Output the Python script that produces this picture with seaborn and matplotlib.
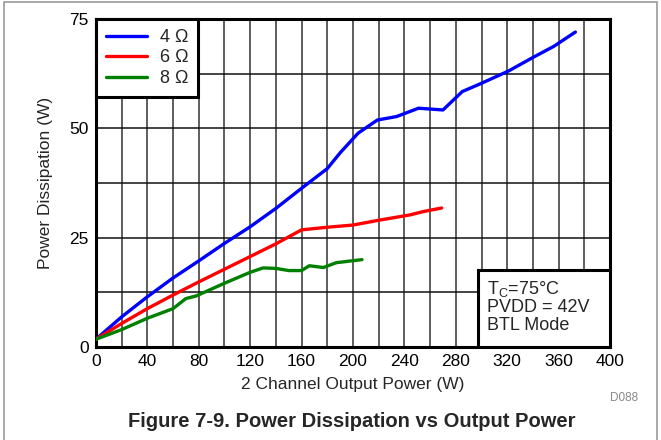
import matplotlib
matplotlib.use("Agg")
import matplotlib.pyplot as plt
import numpy as np
import pandas as pd
import seaborn as sns
from matplotlib.patches import Rectangle

# 4 ohm load
p4 = [0, 20, 40, 60, 80, 100, 120, 140, 160, 180, 190, 204, 219, 234, 251, 270, 285, 300, 321, 340, 356, 373]
d4 = [1.8, 6.9, 11.5, 15.8, 19.7, 23.7, 27.5, 31.7, 36.3, 40.8, 44.4, 48.9, 51.9, 52.7, 54.6, 54.2, 58.4, 60.3, 63.1, 66.2, 68.7, 72.0]

# 6 ohm load
p6 = [0, 20, 40, 60, 80, 100, 120, 140, 160, 180, 200, 220, 244, 255, 269]
d6 = [1.8, 5.4, 8.8, 11.9, 14.9, 17.8, 20.7, 23.6, 26.8, 27.4, 27.9, 29.0, 30.2, 31.0, 31.8]

# 8 ohm load
p8 = [0, 20, 40, 60, 70, 78, 100, 120, 130, 140, 150, 160, 166, 177, 187, 207]
d8 = [1.8, 4.0, 6.6, 8.8, 11.1, 11.7, 14.6, 17.1, 18.1, 18.0, 17.5, 17.5, 18.6, 18.2, 19.3, 20.0]

x_ticks = [0, 40, 80, 120, 160, 200, 240, 280, 320, 360, 400]
y_ticks = [0, 25, 50, 75]

sns.set_theme(style="white")
plt.rcParams['font.family'] = ['Liberation Sans', 'DejaVu Sans']

fig = plt.figure(figsize=(6.61, 4.40), dpi=100)
ax = fig.add_axes([0.145, 0.211, 0.778, 0.746])

# grid every 20 W and 12.5 W
for gx in np.arange(20, 400, 20):
    ax.axvline(gx, color='#333333', lw=1.1, zorder=1)
for gy in np.arange(12.5, 75, 12.5):
    ax.axhline(gy, color='#111111', lw=1.1, zorder=1)

series = [("4 Ω", p4, d4, '#0000ff'), ("6 Ω", p6, d6, '#ff0000'), ("8 Ω", p8, d8, '#008000')]
for name, px, py, col in series:
    df = pd.DataFrame({"p": px, "d": py})
    sns.lineplot(data=df, x="p", y="d", ax=ax, color=col, lw=2.4, label=name, zorder=3)

ax.set_xlim(0, 400)
ax.set_ylim(0, 75)
ax.set_xticks(x_ticks)
ax.set_yticks(y_ticks)
ax.tick_params(axis='both', labelsize=12.5, length=0, pad=5, colors='black')
ax.set_xlabel("2 Channel Output Power (W)", fontsize=12.5, labelpad=6)
ax.set_ylabel("Power Dissipation (W)", fontsize=12.5, labelpad=12)
for s in ax.spines.values():
    s.set_visible(True)
    s.set_color('black')
    s.set_linewidth(2.2)

leg = ax.legend(loc='upper left', fontsize=13, frameon=True, fancybox=False,
                borderaxespad=0, handlelength=2.3, handletextpad=0.7,
                labelspacing=0.2, borderpad=0.55)
leg.get_frame().set_edgecolor('black')
leg.get_frame().set_linewidth(2.2)
leg.get_frame().set_alpha(1)

ax.text(0.76, 0.04, "T$_\\mathregular{C}$=75°C\nPVDD = 42V\nBTL Mode", transform=ax.transAxes,
        ha='left', va='bottom', fontsize=13, linespacing=1.05, zorder=5)
ax.add_patch(Rectangle((0.743, 0.0), 0.257, 0.235, transform=ax.transAxes,
                       fc='white', ec='black', lw=2.2, zorder=4))

fig.text(0.965, 0.095, "D088", fontsize=8.5, color='#888888', ha='right', va='center')
fig.text(0.532, 0.043, "Figure 7-9. Power Dissipation vs Output Power", fontsize=14.5,
         fontweight='bold', ha='center', va='center')

fig.patches.append(Rectangle((0.006, -0.01), 0.988, 1.005, transform=fig.transFigure,
                             fill=False, ec='#999999', lw=1.2))

fig.savefig("out.png", dpi=100)
